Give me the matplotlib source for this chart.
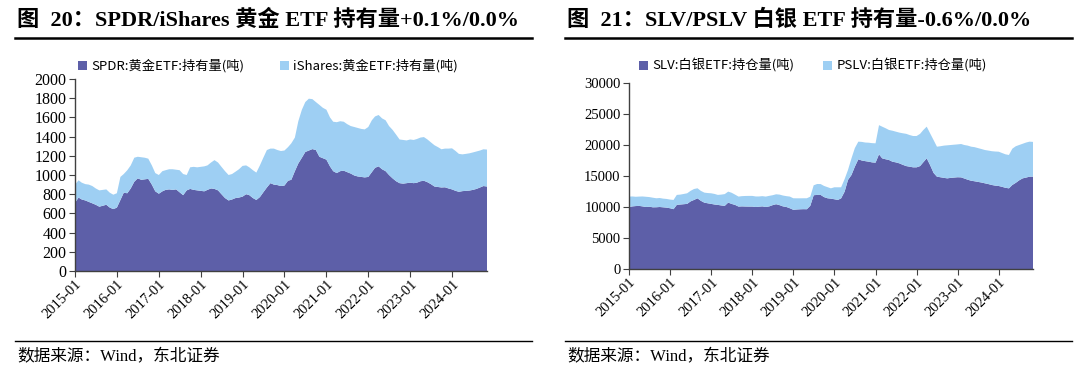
import matplotlib
matplotlib.use('Agg')
import matplotlib.pyplot as plt
import matplotlib.dates as mdates
import pandas as pd

plt.rcParams['font.family'] = ['Liberation Serif', 'Noto Sans CJK SC', 'DejaVu Sans']

# monthly readings, 2015-01 .. 2024-11
months = pd.date_range('2015-01-01', periods=119, freq='MS')

spdr = [710, 765, 745, 735, 720, 705, 690, 670, 680, 690, 660, 645,
        660, 740, 815, 810, 860, 930, 965, 950, 955, 960, 900, 830,
        805, 830, 845, 850, 845, 850, 820, 790, 840, 855, 845, 840,
        835, 830, 845, 860, 855, 840, 800, 760, 735, 745, 760, 765,
        775, 800, 790, 760, 740, 770, 820, 870, 915, 900, 895, 885,
        890, 940, 950, 1040, 1120, 1180, 1240, 1255, 1270, 1260, 1190, 1175,
        1160, 1090, 1040, 1020, 1040, 1045, 1030, 1015, 995, 985, 980, 975,
        980, 1030, 1075, 1090, 1060, 1040, 1000, 965, 935, 915, 910, 915,
        920, 915, 920, 935, 940, 925, 905, 880, 875, 870, 872, 860,
        850, 835, 825, 832, 835, 838, 845, 855, 870, 885, 880]

ishares = [190, 180, 175, 170, 180, 180, 170, 170, 165, 160, 155, 150,
           150, 240, 195, 240, 240, 250, 225, 235, 225, 210, 200, 190,
           195, 210, 205, 210, 215, 205, 230, 220, 160, 225, 240, 240,
           250, 260, 255, 270, 300, 290, 285, 280, 265, 265, 275, 295,
           320, 300, 290, 290, 285, 330, 360, 390, 360, 375, 365, 365,
           365, 350, 380, 350, 440, 500, 520, 540, 520, 500, 540, 525,
           520, 510, 515, 530, 520, 510, 500, 495, 505, 505, 500, 500,
           520, 540, 535, 535, 530, 530, 510, 505, 485, 455, 455, 445,
           450, 450, 455, 455, 455, 445, 435, 430, 415, 398, 403, 415,
           428, 415, 395, 383, 385, 388, 390, 390, 385, 383, 385]

slv = [10000, 10100, 10150, 10180, 10100, 10000, 10050, 9950, 9960, 10000, 9950, 9900,
       9800, 9650, 10340, 10400, 10450, 10500, 10900, 11140, 11400, 11000, 10700, 10600,
       10500, 10400, 10340, 10250, 10180, 10710, 10500, 10340, 10070, 10100, 10080, 10070,
       10070, 10000, 10050, 10100, 10000, 10100, 10300, 10450, 10300, 10100, 10000, 9800,
       9550, 9600, 9630, 9650, 9640, 10200, 11900, 11950, 11950, 11600, 11410, 11350,
       11250, 11140, 11400, 12470, 14360, 15160, 16500, 17690, 17500, 17400, 17310, 17200,
       17150, 18500, 17850, 17700, 17580, 17300, 17200, 17040, 16800, 16600, 16500, 16400,
       16400, 16600, 17200, 17850, 16770, 15500, 14890, 14800, 14700, 14620, 14700, 14750,
       14800, 14780, 14600, 14400, 14240, 14150, 14050, 13950, 13820, 13700, 13550, 13450,
       13390, 13250, 13100, 13010, 13550, 13900, 14300, 14620, 14750, 14890, 14900]

pslv = [1680, 1600, 1500, 1500, 1600, 1650, 1550, 1550, 1450, 1450, 1400, 1400,
        1400, 1490, 1610, 1600, 1650, 1710, 1700, 1760, 1620, 1600, 1620, 1650,
        1710, 1700, 1610, 1750, 1900, 1770, 1800, 1660, 1610, 1650, 1700, 1720,
        1720, 1700, 1650, 1650, 1680, 1700, 1600, 1600, 1700, 1750, 1750, 1880,
        1860, 1800, 1770, 1760, 1770, 1470, 1600, 1760, 1750, 1800, 1790, 1660,
        1930, 2040, 1780, 2030, 1610, 2680, 3000, 2850, 3000, 3000, 3060, 3100,
        3120, 4700, 5110, 5000, 4840, 5000, 4950, 4960, 5090, 5200, 5100, 5050,
        5050, 5200, 5200, 5110, 5120, 5300, 4840, 5000, 5200, 5330, 5300, 5300,
        5300, 5380, 5400, 5500, 5490, 5500, 5450, 5400, 5370, 5400, 5450, 5500,
        5530, 5450, 5400, 5380, 5850, 5900, 5700, 5580, 5650, 5650, 5600]

gold_labels = ['SPDR:黄金ETF:持有量(吨)', 'iShares:黄金ETF:持有量(吨)']
silver_labels = ['SLV:白银ETF:持仓量(吨)', 'PSLV:白银ETF:持仓量(吨)']
year_ticks = pd.date_range('2015-01-01', '2024-01-01', freq='YS')

dark = '#5d5fa8'
light = '#9ecff3'
W, H = 1080, 376

fig = plt.figure(figsize=(W / 100, H / 100), dpi=100)


def px(x0, y0, x1, y1):
    return [x0 / W, 1 - y1 / H, (x1 - x0) / W, (y1 - y0) / H]


def panel(rect, a, b, labels, ylim, yticks, ysize, xsize, leg_x, leg_gap):
    ax = fig.add_axes(rect)
    ax.stackplot(months, a, b, colors=[dark, light], labels=labels, linewidth=0)
    ax.set_xlim(months[0], months[-1])
    ax.set_ylim(*ylim)
    ax.set_yticks(yticks)
    ax.set_xticks(year_ticks)
    ax.xaxis.set_major_formatter(mdates.DateFormatter('%Y-%m'))
    for s in ['top', 'right']:
        ax.spines[s].set_visible(False)
    for s in ['left', 'bottom']:
        ax.spines[s].set_color('#404040')
        ax.spines[s].set_linewidth(1.0)
    ax.tick_params(axis='y', labelsize=ysize, length=4, color='#404040', pad=2)
    ax.tick_params(axis='x', labelsize=xsize, length=4, color='#404040', pad=1)
    for t in ax.get_xticklabels():
        t.set_rotation(45)
        t.set_ha('right')
        t.set_rotation_mode('anchor')
    ax.legend(loc='center left', bbox_to_anchor=(leg_x / W, 1 - 66 / H),
              bbox_transform=fig.transFigure, ncol=2, frameon=False,
              handlelength=0.7, handleheight=0.7, handletextpad=0.3,
              columnspacing=leg_gap, borderpad=0, borderaxespad=0,
              prop={'family': ['Noto Sans CJK SC'], 'size': 9.5})
    return ax


panel(px(75, 79, 487, 271), spdr, ishares, gold_labels, (0, 2000),
      range(0, 2001, 200), 11.5, 10.5, 78, 2.7)
panel(px(629, 83, 1033, 269), slv, pslv, silver_labels, (0, 30000),
      range(0, 30001, 5000), 10.5, 10.5, 639, 2.2)

title_font = {'family': ['Liberation Serif', 'Noto Sans CJK SC'], 'size': 16,
              'weight': 'bold'}
fig.text(17 / W, 1 - 20 / H, '图  20：SPDR/iShares 黄金 ETF 持有量+0.1%/0.0%',
         va='center', ha='left', **title_font)
fig.text(567 / W, 1 - 20 / H, '图  21：SLV/PSLV 白银 ETF 持有量-0.6%/0.0%',
         va='center', ha='left', **title_font)

for x0, x1 in [(15, 532), (565, 1072)]:
    fig.add_artist(plt.Line2D([x0 / W, x1 / W], [1 - 38 / H] * 2, color='black', lw=1.8))
    fig.add_artist(plt.Line2D([x0 / W, x1 / W], [1 - 341 / H] * 2, color='black', lw=1.0))

src_font = {'family': ['Liberation Serif', 'Noto Sans CJK SC'], 'size': 12}
fig.text(17 / W, 1 - 357 / H, '数据来源：Wind，东北证券', va='center', ha='left', **src_font)
fig.text(567 / W, 1 - 357 / H, '数据来源：Wind，东北证券', va='center', ha='left', **src_font)

fig.savefig('out.png', dpi=100)
